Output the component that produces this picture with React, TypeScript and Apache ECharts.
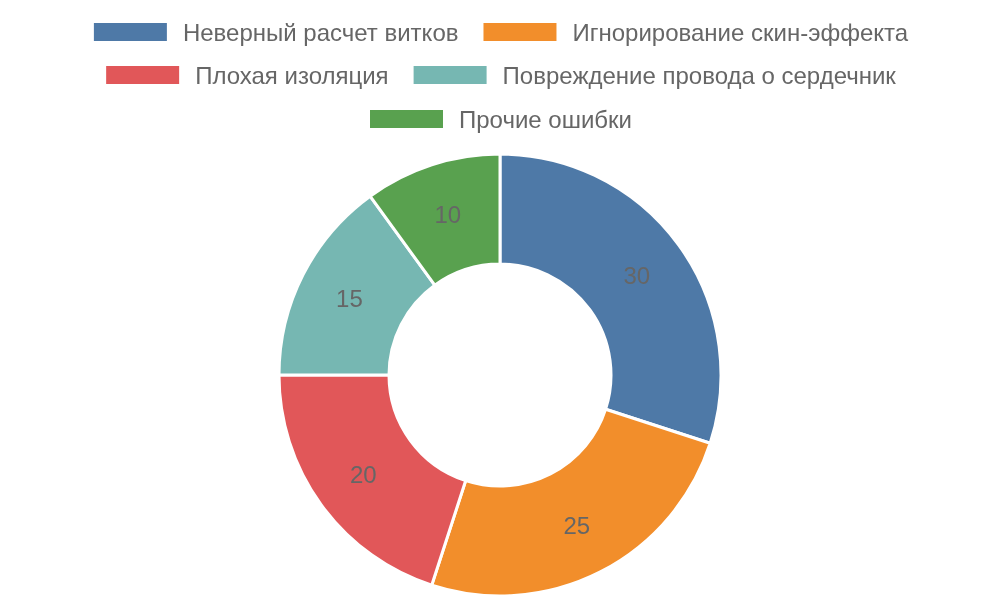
import React, { useEffect, useRef } from "react";
import * as echarts from "echarts";

const categories = [
  "Неверный расчет витков",
  "Игнорирование скин-эффекта",
  "Плохая изоляция",
  "Повреждение провода о сердечник",
  "Прочие ошибки",
];
const values = [30, 25, 20, 15, 10];
const colors = ["#4e79a7", "#f28e2b", "#e15759", "#76b7b2", "#59a14f"];
const legendRows = [
  [categories[0], categories[1]],
  [categories[2], categories[3]],
  [categories[4]],
];
const legendTops = [15, 58, 102];

export default function App() {
  const ref = useRef<HTMLDivElement>(null);
  useEffect(() => {
    const chart = echarts.init(ref.current!, null, { renderer: "svg" });
    chart.setOption({
      animation: false,
      color: colors,
      textStyle: { fontFamily: "Liberation Sans, Arial, sans-serif" },
      legend: legendRows.map((row, i) => ({
        top: legendTops[i],
        left: "center",
        icon: "rect",
        itemWidth: 75,
        itemHeight: 20,
        itemGap: 23,
        textStyle: {
          fontSize: 24,
          lineHeight: 24,
          color: "#666",
          padding: [0, 0, 0, 10],
        },
        data: row,
      })),
      series: [
        {
          type: "pie",
          center: [500, 375],
          radius: [111, 221],
          startAngle: 90,
          itemStyle: { borderColor: "#fff", borderWidth: 3 },
          label: {
            show: true,
            position: "inside",
            formatter: "{c}",
            fontSize: 24,
            color: "#666",
          },
          labelLine: { show: false },
          data: categories.map((name, i) => ({ name, value: values[i] })),
        },
      ],
    });
    return () => chart.dispose();
  }, []);
  return (
    <div
      ref={ref}
      style={{ position: "fixed", left: 0, top: 0, width: 1000, height: 600 }}
    />
  );
}
